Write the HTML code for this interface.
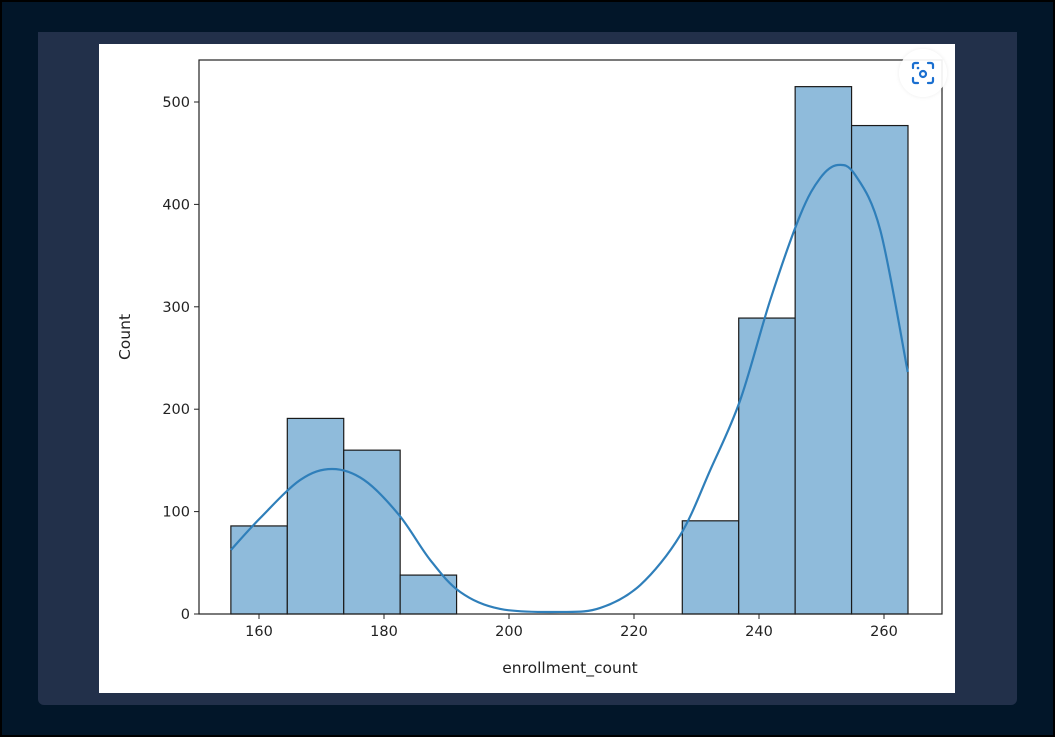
<!DOCTYPE html>
<html><head><meta charset="utf-8"><style>
html,body{margin:0;padding:0;}
body{width:1055px;height:737px;background:#021629;position:relative;overflow:hidden;font-family:"DejaVu Sans","Liberation Sans",sans-serif;}
#frame{position:absolute;left:0;top:0;width:1051px;height:733px;border:2px solid #000;}
#panel{position:absolute;left:38px;top:32px;width:979px;height:673px;background:#22304a;border-radius:0 0 6px 6px;}
#card{position:absolute;left:99px;top:44px;width:856px;height:649px;background:#fff;}
#icon{position:absolute;left:899px;top:49px;width:48px;height:48px;border-radius:50%;background:rgba(255,255,255,0.92);box-shadow:0 0 4px rgba(0,0,0,0.08);}
</style></head><body>
<div id="frame"></div>
<div id="panel"></div>
<div id="card"></div>
<svg id="chart" width="1055" height="737" style="position:absolute;left:0;top:0"></svg>
<div id="icon">
<svg width="48" height="48" viewBox="0 0 48 48"><g fill="none" stroke="#1a6fd0" stroke-width="2.2" stroke-linecap="round">
<path d="M14 19v-3a2 2 0 0 1 2-2h3M29 14h3a2 2 0 0 1 2 2v3M34 29v3a2 2 0 0 1-2 2h-3M19 34h-3a2 2 0 0 1-2-2v-3"/>
<circle cx="24" cy="25" r="3"/></g><circle cx="19" cy="19" r="1.3" fill="#1a6fd0"/></svg>
</div>
<script>
const binStart = 155.5;
const binEnd = 263.84;
const counts = [86, 191, 160, 38, 0, 0, 0, 0, 91, 289, 515, 477];
const kdeX = [155.5,160.2,166.6,171.7,176.8,182.4,187.4,192.2,198.6,208.2,214.6,221,227.4,232.2,237,241.8,246.6,249.8,252.6,255.4,259.4,263.8];
const kdeY = [62.5,93.75,130.9,141.6,130.9,96.7,52.7,21.5,4.9,2,5.9,28.3,77,140.6,209,306.6,389.6,425.8,438.5,428.7,375,236.3];
const xTicks = [160,180,200,220,240,260];
const yTicks = [0,100,200,300,400,500];

const NS='http://www.w3.org/2000/svg';
const svg=document.getElementById('chart');
const L=199,R=942,T=60,B=614;
const sx=v=>259+(v-160)*6.25;
const sy=v=>614-v*1.024;
function mk(tag,attrs,parent){const e=document.createElementNS(NS,tag);for(const k in attrs)e.setAttribute(k,attrs[k]);(parent||svg).appendChild(e);return e;}

const bw=(binEnd-binStart)/counts.length;
counts.forEach((c,i)=>{
  if(c<=0)return;
  const x0=sx(binStart+i*bw),x1=sx(binStart+(i+1)*bw);
  const r=mk('rect',{x:x0,y:sy(c),width:x1-x0,height:sy(0)-sy(c),fill:'#8fbbdb',stroke:'#1a1a1a','stroke-width':1.2});
  
  
});

const pts=kdeX.map((x,i)=>[sx(x),sy(kdeY[i])]);
let d='M'+pts[0][0]+','+pts[0][1];
for(let i=0;i<pts.length-1;i++){
  const p0=pts[Math.max(0,i-1)],p1=pts[i],p2=pts[i+1],p3=pts[Math.min(pts.length-1,i+2)];
  const c1=[p1[0]+(p2[0]-p0[0])/6,p1[1]+(p2[1]-p0[1])/6];
  const c2=[p2[0]-(p3[0]-p1[0])/6,p2[1]-(p3[1]-p1[1])/6];
  d+=` C${c1[0]},${c1[1]} ${c2[0]},${c2[1]} ${p2[0]},${p2[1]}`;
}
const kde=mk('path',{d:d,fill:'none',stroke:'#2f7fba','stroke-width':2.2});



const frame=mk('rect',{x:L,y:T,width:R-L,height:B-T,fill:'none',stroke:'#222','stroke-width':1.2});



xTicks.forEach(t=>{
  const x=sx(t);
  const tk=mk('line',{x1:x,x2:x,y1:B,y2:B+5,stroke:'#222','stroke-width':1});
  
  
  const tx=mk('text',{x:x,y:B+22,'text-anchor':'middle','font-size':'14.5',fill:'#222'});
  tx.textContent=t;
  
  
});
yTicks.forEach(t=>{
  const y=sy(t);
  const tk=mk('line',{x1:L-5,x2:L,y1:y,y2:y,stroke:'#222','stroke-width':1});
  
  
  const tx=mk('text',{x:L-9,y:y+5,'text-anchor':'end','font-size':'14.5',fill:'#222'});
  tx.textContent=t;
  
  
});
const xt=mk('text',{x:570,y:673,'text-anchor':'middle','font-size':'15.5',fill:'#222'});
xt.textContent='enrollment_count';


const yt=mk('text',{x:0,y:0,'text-anchor':'middle','font-size':'15.5',fill:'#222',transform:'translate(130,337) rotate(-90)'});
yt.textContent='Count';


</script>
</body></html>
